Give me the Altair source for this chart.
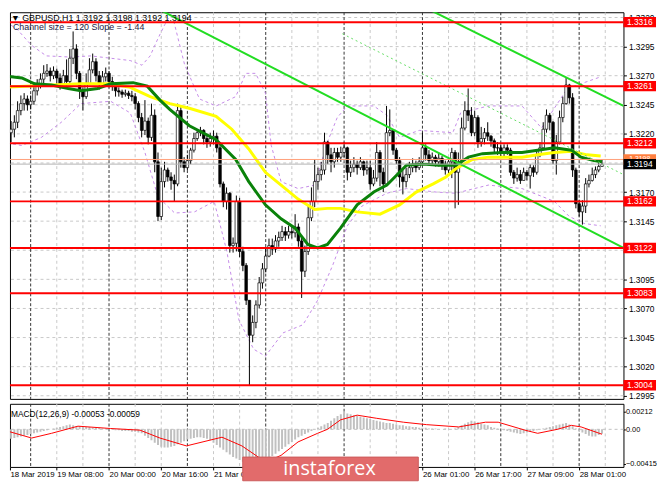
import json
import altair as alt
import pandas as pd

FONT = "Liberation Sans"

# ---------------- data (prices in pips, 1 pip = 0.0001) ----------------
first_open_pips = 13236
close_pips = [
    13228, 13221, 13224, 13230, 13240, 13246, 13250, 13245, 13248, 13257,
    13262, 13267, 13272, 13274, 13270, 13274, 13268, 13263, 13270, 13265,
    13285, 13293, 13272, 13257, 13252, 13263, 13275, 13282, 13270, 13263,
    13269, 13272, 13265, 13262, 13257, 13256, 13254, 13255, 13253, 13252,
    13246, 13234, 13223, 13231, 13217, 13236, 13196, 13149, 13179, 13189,
    13183, 13180, 13177, 13240, 13196, 13191, 13197, 13206, 13216, 13221,
    13223, 13216, 13213, 13216, 13218, 13208, 13177, 13162, 13169, 13124,
    13126, 13162, 13119, 13107, 13077, 13047, 13058, 13073, 13092, 13104,
    13115, 13124, 13121, 13128, 13131, 13136, 13133, 13136, 13135, 13140,
    13128, 13102, 13119, 13148, 13162, 13179, 13185, 13189, 13213, 13202,
    13196, 13204, 13200, 13204, 13208, 13187, 13191, 13194, 13191, 13196,
    13189, 13191, 13177, 13182, 13204, 13187, 13177, 13221, 13223, 13206,
    13197, 13183, 13179, 13185, 13191, 13194, 13191, 13196, 13208, 13202,
    13197, 13200, 13196, 13199, 13194, 13189, 13196, 13204, 13187, 13196,
    13225, 13240, 13236, 13221, 13234, 13213, 13216, 13221, 13218, 13214,
    13208, 13208, 13204, 13208, 13206, 13187, 13182, 13185, 13180, 13187,
    13184, 13191, 13187, 13202, 13208, 13224, 13236, 13230, 13197, 13213,
    13234, 13246, 13262, 13251, 13189, 13160, 13153, 13158, 13177, 13180,
    13185, 13189, 13192, 13194,
]
high_pips = [
    13242, 13234, 13231, 13236, 13248, 13253, 13255, 13253, 13253, 13263,
    13267, 13272, 13279, 13280, 13277, 13278, 13276, 13272, 13275, 13284,
    13293, 13308, 13297, 13274, 13260, 13272, 13285, 13289, 13285, 13274,
    13274, 13277, 13274, 13269, 13263, 13260, 13258, 13258, 13257, 13257,
    13255, 13248, 13238, 13249, 13234, 13246, 13241, 13204, 13191, 13196,
    13191, 13187, 13185, 13246, 13243, 13200, 13202, 13208, 13221, 13224,
    13226, 13224, 13219, 13221, 13223, 13221, 13213, 13179, 13174, 13170,
    13131, 13167, 13165, 13123, 13109, 13077, 13064, 13077, 13097, 13109,
    13121, 13130, 13130, 13133, 13136, 13141, 13140, 13141, 13140, 13151,
    13143, 13131, 13124, 13158, 13174, 13198, 13191, 13196, 13221, 13214,
    13208, 13208, 13208, 13209, 13213, 13209, 13197, 13200, 13197, 13200,
    13197, 13197, 13197, 13189, 13213, 13206, 13191, 13244, 13241, 13224,
    13208, 13200, 13189, 13191, 13196, 13199, 13197, 13200, 13221, 13211,
    13206, 13204, 13202, 13204, 13201, 13197, 13200, 13208, 13206, 13204,
    13234, 13248, 13259, 13243, 13240, 13236, 13226, 13225, 13230, 13219,
    13216, 13213, 13211, 13211, 13211, 13208, 13189, 13191, 13189, 13191,
    13189, 13194, 13193, 13206, 13213, 13230, 13241, 13238, 13231, 13219,
    13240, 13252, 13268, 13263, 13255, 13191, 13163, 13163, 13182, 13185,
    13191, 13192, 13196, 13198,
]
low_pips = [
    13217, 13181, 13213, 13217, 13225, 13236, 13240, 13240, 13241, 13245,
    13253, 13259, 13263, 13269, 13265, 13267, 13263, 13258, 13260, 13260,
    13263, 13280, 13267, 13250, 13240, 13250, 13262, 13272, 13265, 13258,
    13260, 13265, 13260, 13257, 13252, 13252, 13251, 13252, 13250, 13248,
    13241, 13230, 13217, 13219, 13211, 13214, 13187, 13145, 13146, 13174,
    13179, 13172, 13162, 13175, 13191, 13187, 13189, 13194, 13204, 13214,
    13218, 13211, 13208, 13209, 13211, 13204, 13174, 13157, 13155, 13118,
    13118, 13119, 13114, 13102, 13073, 13004, 13041, 13053, 13070, 13087,
    13101, 13114, 13116, 13118, 13123, 13128, 13128, 13130, 13130, 13131,
    13123, 13079, 13097, 13116, 13145, 13157, 13172, 13180, 13185, 13194,
    13187, 13191, 13196, 13196, 13200, 13180, 13183, 13187, 13185, 13189,
    13184, 13185, 13172, 13175, 13179, 13175, 13170, 13175, 13218, 13202,
    13194, 13174, 13168, 13174, 13182, 13187, 13187, 13189, 13194, 13197,
    13194, 13194, 13192, 13192, 13189, 13185, 13185, 13182, 13156, 13159,
    13194, 13223, 13231, 13218, 13218, 13208, 13209, 13211, 13214, 13209,
    13204, 13202, 13201, 13200, 13202, 13184, 13177, 13179, 13177, 13180,
    13180, 13173, 13183, 13185, 13200, 13206, 13221, 13223, 13194, 13185,
    13211, 13230, 13245, 13246, 13183, 13156, 13149, 13142, 13152, 13174,
    13179, 13182, 13187, 13192,
]

# moving averages (bar index, pips)
green_ma_i = [-1, 5.3, 9.2, 14.4, 19.5, 23.4, 28.5, 32.5, 39.4, 43.7, 47.6, 50.6, 56.6, 64.8,
              70.8, 74.8, 79.9, 84.7, 89, 92.9, 95.9, 98.9, 102.9, 108, 113.1, 117.1, 121,
              123.1, 128.2, 133, 138.2, 142.1, 146.4, 152.4, 158.5, 163.3, 168.4, 173.6,
              176.6, 180.5, 183]
green_ma_p = [13270, 13268, 13263, 13262, 13259, 13257, 13259, 13263, 13264, 13261, 13249,
              13241, 13227, 13215, 13198, 13179, 13159, 13147, 13139, 13125, 13122, 13125,
              13139, 13159, 13170, 13176, 13187, 13193, 13194, 13193, 13193, 13200, 13203,
              13204, 13204, 13206, 13208, 13206, 13200, 13197, 13196]
yellow_ma_i = [-1, 14.4, 23.4, 32.5, 38.5, 44.6, 50.6, 56.6, 64.8, 69.6, 74.8, 79.9, 84.7,
               89.9, 95, 98.9, 102.9, 108, 115, 121, 126.1, 131.3, 135.2, 138.2, 143.3, 148.2,
               158.5, 163.3, 168.4, 173.6, 178.4, 182.6]
yellow_ma_p = [13260, 13262, 13263, 13263, 13260, 13252, 13246, 13242, 13235, 13224, 13207,
               13187, 13176, 13164, 13155, 13156, 13156, 13153, 13151, 13159, 13170, 13177,
               13183, 13190, 13198, 13200, 13200, 13202, 13204, 13205, 13202, 13201]

# envelope bands (bar index, pips)
upper_band_i = [-1, 3.8, 8.3, 12.8, 20.4, 26.4, 32.5, 38.5, 42.1, 44.6, 47, 49.1, 51.2, 55.1,
                59.7, 64.8, 70.8, 73.9, 76.9, 79.9, 81.7, 84.7, 89.9, 95, 98.9, 101.9, 105,
                113.1, 117.1, 121, 127, 137.3, 139.7, 148.2, 158.5, 164.5, 168.4, 172.4, 182.6]
upper_band_p = [13319, 13310, 13296, 13287, 13286, 13287, 13285, 13283, 13279, 13287, 13302,
                13314, 13324, 13280, 13250, 13244, 13252, 13272, 13272, 13255, 13210, 13179,
                13173, 13176, 13213, 13234, 13244, 13244, 13236, 13217, 13223, 13221, 13238,
                13244, 13244, 13225, 13242, 13259, 13269]
lower_band_i = [-1, 5.3, 11.3, 17.4, 23.4, 32.5, 38.5, 43, 47, 52.1, 58.2, 64.2, 68.1, 71.8,
                76.3, 79.9, 85.3, 91.4, 95.9, 100.5, 105, 109.5, 117.1, 123.1, 132.2, 138.2,
                148.2, 158.5, 168.4, 173, 177.5, 182.6]
lower_band_p = [13213, 13210, 13217, 13230, 13246, 13248, 13238, 13204, 13166, 13152, 13153,
                13162, 13119, 13060, 13035, 13029, 13049, 13056, 13077, 13107, 13141, 13158,
                13169, 13173, 13170, 13169, 13176, 13173, 13162, 13149, 13143, 13141]

# regression channel (bar index, pips)
channel_upper_i = [129.2, 189.6]
channel_upper_p = [13328, 13244]
channel_lower_i = [45.2, 189.6]
channel_lower_p = [13330, 13122]
channel_mid_i = [103.5, 189.6]
channel_mid_p = [13306, 13185]

level_prices = [1.3316, 1.3261, 1.3212, 1.3162, 1.3122, 1.3083, 1.3004]
grid_prices = [1.3320, 1.3295, 1.3270, 1.3245, 1.3220, 1.3195, 1.3170, 1.3145, 1.3120,
               1.3095, 1.3070, 1.3045, 1.3020, 1.2995]
axis_prices = [1.3320, 1.3295, 1.3270, 1.3245, 1.3220, 1.3170, 1.3145,
               1.3095, 1.3070, 1.3045, 1.3020, 1.2995]
bid_price = 1.3194
ask_price = 1.3198

# MACD histogram (units of 0.00001), one per bar
macd_main = [
    -114, -124, -114, -105, -95, -86, -76, -67, -57, -48,
    -38, -29, -19, -10, 0, 10, 19, 29, 38, 48, 57, 48, 38,
    38, 29, 29, 29, 19, 19, 19, 10, 10, 10,
    0, -10, -10, -19, -19, -19, -29, -29, -38,
    -48, -76, -105, -133, -162, -190, -209, -219,
    -219, -209, -200, -181, -162, -143, -124,
    -114, -105, -95, -95, -105, -114,
    -133, -162, -190, -219, -247, -276, -304, -333,
    -352, -371, -390, -399, -415, -409, -399, -390, -380, -361, -342, -323,
    -295, -266, -238, -209, -181, -152, -124, -95, -76, -57,
    -38, -19, 0, 19, 38, 57, 76,
    105, 133, 162, 181, 212, 190, 181,
    171, 162, 152, 143, 133, 124, 114, 105,
    95, 86, 76, 76, 67, 57,
    48, 48, 38, 38, 29, 29, 19, 19, 19,
    10, 10, 10, 0, 0, 10, 0, 0, 10,
    29, 48, 67, 86, 105, 95, 86,
    67, 57, 48, 29, 19, 10,
    0, -10, -19, -29, -38, -48, -57, -48, -38,
    -29, -19, -10, 0,
    10, 19, 29, 38, 48, 57, 67, 76,
    57, 38, 10, -19,
    -38, -57, -76, -86, -86, -67, -53,
]
signal_i = [-1, 8.3, 14.4, 22.5, 32.5, 41.5, 47.6, 55.7, 66.6, 72.7, 78.7, 80.8, 84.7, 89.9,
            95.9, 98.9, 102.9, 108, 114, 122.2, 129.2, 139.1, 147.3, 151.2, 159.4, 163.3,
            169.3, 173.6, 176.6, 183]
signal_v = [0, -105, -48, 38, 10, -10, -105, -200, -95, -200, -361, -380, -314, -152, -48, 0,
            114, 171, 133, 86, 57, 29, 86, 86, -10, -48, 0, 48, 29, -59]

time_label_bars = [0, 16, 32, 48, 64, 80, 96, 112, 128, 144, 160, 176]
time_labels = ["18 Mar 2019", "19 Mar 08:00", "20 Mar 00:00", "20 Mar 16:00", "21 Mar 08:00",
               "22 Mar 00:00", "22 Mar 16:00", "25 Mar 09:00", "26 Mar 01:00", "26 Mar 17:00",
               "27 Mar 09:00", "28 Mar 01:00"]
labels_under_logo = [80, 96, 112]
grid_bars = [0, 16, 24, 40, 48, 64, 72, 88, 96, 112, 120, 136, 144, 160, 168, 184]
separator_bars = [8, 32, 56, 80, 104, 128, 152, 176]

header_text = "▼ GBPUSD,H1  1.3192 1.3198 1.3192 1.3194"
channel_text = "Channel size = 120 Slope = -1.44"
macd_text = "MACD(12,26,9) -0.00053 -0.00059"
logo_text = "instaforex"

# ---------------- tables ----------------
N = len(close_pips)
open_pips = [first_open_pips] + close_pips[:-1]
candles = pd.DataFrame({
    "i": list(range(N)),
    "open": [v / 1e4 for v in open_pips],
    "close": [v / 1e4 for v in close_pips],
    "high": [v / 1e4 for v in high_pips],
    "low": [v / 1e4 for v in low_pips],
})
candles["bull"] = candles["close"] >= candles["open"]


def line_df(xs, ps, name):
    return pd.DataFrame({"i": xs, "p": [v / 1e4 for v in ps], "name": name})


ma_green = line_df(green_ma_i, green_ma_p, "g")
ma_yellow = line_df(yellow_ma_i, yellow_ma_p, "y")
bands = pd.concat([line_df(upper_band_i, upper_band_p, "u"),
                   line_df(lower_band_i, lower_band_p, "l")])
chan = pd.concat([line_df(channel_upper_i, channel_upper_p, "u"),
                  line_df(channel_lower_i, channel_lower_p, "l")])
chan_mid = line_df(channel_mid_i, channel_mid_p, "m")
levels = pd.DataFrame({"p": level_prices, "t": [f"{v:.4f}" for v in level_prices]})
hgrid = pd.DataFrame({"p": grid_prices})
vgrid = pd.DataFrame({"i": grid_bars})
vsep = pd.DataFrame({"i": separator_bars})
hist = pd.DataFrame({"i": list(range(N)), "m": [v / 1e5 for v in macd_main], "z": 0.0})
sig = pd.DataFrame({"i": signal_i, "m": [v / 1e5 for v in signal_v]})
ask_df = pd.DataFrame({"p": [ask_price], "t": [f"{ask_price:.4f}"]})
bid_df = pd.DataFrame({"p": [bid_price], "t": [f"{bid_price:.4f}"]})

# ---------------- scales / axes ----------------
PX_PER_BAR = 3.31
X_MIN = 1.66
W = 622
X_MAX = X_MIN + W / PX_PER_BAR
XS = alt.Scale(domain=[X_MIN, X_MAX], nice=False, zero=False, padding=0)
YP = alt.Scale(domain=[1.29923, 1.33245], nice=False, zero=False, padding=0)
YM = alt.Scale(domain=[-0.00454, 0.00308], nice=False, zero=False, padding=0)

yax = alt.Axis(orient="right", values=axis_prices, format=".4f", title=None,
               labelFont=FONT, labelFontSize=8.5, labelColor="black", tickSize=3,
               tickColor="black", domain=False, grid=False, labelPadding=2,
               labelOverlap=False, labelFlush=False)
ymax = alt.Axis(orient="right", values=[0.00212, 0.0, -0.00415], title=None,
                labelExpr="datum.value == 0 ? '0.00' : format(datum.value, '.5f')",
                labelFont=FONT, labelFontSize=7.5, labelColor="black", tickSize=2,
                tickColor="black", domain=False, grid=False, labelPadding=0,
                labelOverlap=False, labelFlush=False)
axis_label_bars = [X_MIN] + [b for b in time_label_bars[1:] if b not in labels_under_logo]
label_expr = (f"datum.value < 8 ? {json.dumps(time_labels[0])} : "
              f"{json.dumps(time_labels)}[round(datum.value / 16)]")
xax = alt.Axis(orient="bottom", values=axis_label_bars, labelExpr=label_expr,
               labelAlign="left", labelFont=FONT, labelFontSize=8, labelColor="black",
               tickSize=3, tickColor="black", domain=False, grid=False, title=None,
               labelPadding=1, labelOverlap=False, labelFlush=False)


def X(field="i", axis=None):
    return alt.X(f"{field}:Q", scale=XS, axis=axis)


def YPe(field="p"):
    return alt.Y(f"{field}:Q", scale=YP, axis=yax)


def YMe(field="m"):
    return alt.Y(f"{field}:Q", scale=YM, axis=ymax)


BOX_X = W + 16.5
# a 33 x 10.5 px label box (custom symbol, scaled by sqrt(size)/2 = 16.5)
BOX_SHAPE = "M-1,-0.32L1,-0.32L1,0.32L-1,0.32Z"
BOX_SIZE = 33 * 33

# ---------------- main price panel ----------------
g_h = alt.Chart(hgrid).mark_rule(color="#c8c8c8", strokeDash=[3, 3], strokeWidth=1).encode(y=YPe())
g_v = alt.Chart(vgrid).mark_rule(color="#c8c8c8", strokeDash=[3, 3], strokeWidth=1,
                                 clip=True).encode(x=X())
g_s = alt.Chart(vsep).mark_rule(color="#333333", strokeDash=[3, 2], strokeWidth=1,
                                clip=True).encode(x=X())

band_l = alt.Chart(bands).mark_line(color="#c48ae8", strokeDash=[3, 3], strokeWidth=1, clip=True).encode(
    x=X(), y=YPe(), detail="name:N")

wicks = alt.Chart(candles).mark_rule(color="black", strokeWidth=1, clip=True).encode(
    x=X(), y=YPe("low"), y2="high:Q")
bodies = alt.Chart(candles).mark_bar(size=2.6, stroke="black", strokeWidth=0.7, clip=True).encode(
    x=X(), y=YPe("open"), y2="close:Q",
    color=alt.condition("datum.bull", alt.value("white"), alt.value("black")))

yel = alt.Chart(ma_yellow).mark_line(color="#ffff00", strokeWidth=3, clip=True).encode(x=X(), y=YPe())
grn = alt.Chart(ma_green).mark_line(color="#0a820a", strokeWidth=3, clip=True).encode(x=X(), y=YPe())

ch = alt.Chart(chan).mark_line(color="#22dd22", strokeWidth=2, clip=True).encode(
    x=X(), y=YPe(), detail="name:N")
chm = alt.Chart(chan_mid).mark_line(color="#66dd66", strokeDash=[2, 3], strokeWidth=1, clip=True).encode(
    x=X(), y=YPe())

lv = alt.Chart(levels).mark_rule(color="#ff0000", strokeWidth=2).encode(y=YPe())
ask_line = alt.Chart(ask_df).mark_rule(color="#ffa07a", strokeWidth=1).encode(y=YPe())
bid_line = alt.Chart(bid_df).mark_rule(color="#b4b4b4", strokeWidth=1).encode(y=YPe())


def box(df, fill, fsize=8.5):
    b = alt.Chart(df).mark_point(shape=BOX_SHAPE, size=BOX_SIZE, filled=True, color=fill,
                                 opacity=1, strokeWidth=0).encode(x=alt.value(BOX_X), y=YPe())
    t = alt.Chart(df).mark_text(color="white", fontSize=fsize, font=FONT, align="center",
                                baseline="middle").encode(x=alt.value(BOX_X), y=YPe(), text="t:N")
    return b, t


lv_box, lv_txt = box(levels, "#ff0000")
ask_box, ask_txt = box(ask_df, "#ff7f3f", 7)
bid_box, bid_txt = box(bid_df, "black")

hdr = alt.Chart(pd.DataFrame({"t": [header_text]})).mark_text(
    align="left", baseline="middle", fontSize=9, font=FONT, color="black").encode(
    x=alt.value(1), y=alt.value(6), text="t:N")
chtxt = alt.Chart(pd.DataFrame({"t": [channel_text]})).mark_text(
    align="left", baseline="middle", fontSize=9, font=FONT, color="#222244").encode(
    x=alt.value(3), y=alt.value(15), text="t:N")

main = alt.layer(g_h, g_v, g_s, band_l, wicks, bodies, yel, grn, ch, chm, lv, ask_line,
                 bid_line, lv_box, lv_txt, ask_box, ask_txt, bid_box, bid_txt, hdr,
                 chtxt).properties(width=W, height=392)

# ---------------- MACD panel ----------------
m_zero = alt.Chart(pd.DataFrame({"m": [0.0]})).mark_rule(
    color="#c0c0c0", strokeDash=[3, 3], strokeWidth=1).encode(y=YMe())
m_v = alt.Chart(vgrid).mark_rule(color="#c8c8c8", strokeDash=[3, 3], strokeWidth=1,
                                 clip=True).encode(x=X(axis=xax))
m_s = alt.Chart(vsep).mark_rule(color="#333333", strokeDash=[3, 2], strokeWidth=1,
                                clip=True).encode(x=X(axis=xax))
m_hist = alt.Chart(hist).mark_bar(size=2, color="#c0c0c0", clip=True).encode(
    x=X(axis=xax), y=YMe(), y2="z:Q")
m_sig = alt.Chart(sig).mark_line(color="#ff0000", strokeWidth=1, clip=True).encode(
    x=X(axis=xax), y=YMe())
m_txt = alt.Chart(pd.DataFrame({"t": [macd_text]})).mark_text(
    align="left", baseline="middle", fontSize=8.5, font=FONT, color="black").encode(
    x=alt.value(1), y=alt.value(10), text="t:N")
logo_box = alt.Chart(pd.DataFrame({"t": [logo_text]})).mark_rect(
    color="#e26b6b", stroke="#cc5b5b", strokeWidth=1).encode(
    x=alt.value(236), x2=alt.value(414), y=alt.value(54), y2=alt.value(78))
logo_txt = alt.Chart(pd.DataFrame({"t": [logo_text]})).mark_text(
    align="center", baseline="middle", fontSize=20, font="Open Sans", color="white").encode(
    x=alt.value(324), y=alt.value(66), text="t:N")

macd = alt.layer(m_zero, m_v, m_s, m_hist, m_sig, m_txt, logo_box, logo_txt).properties(
    width=W, height=64)

chart = alt.vconcat(main, macd, spacing=2).properties(
    padding={"left": 0, "right": 0, "top": 0, "bottom": 0}, background="white"
).configure_view(stroke="black", strokeWidth=1)

chart.save("out.html", embed_options={"renderer": "svg", "actions": False})
